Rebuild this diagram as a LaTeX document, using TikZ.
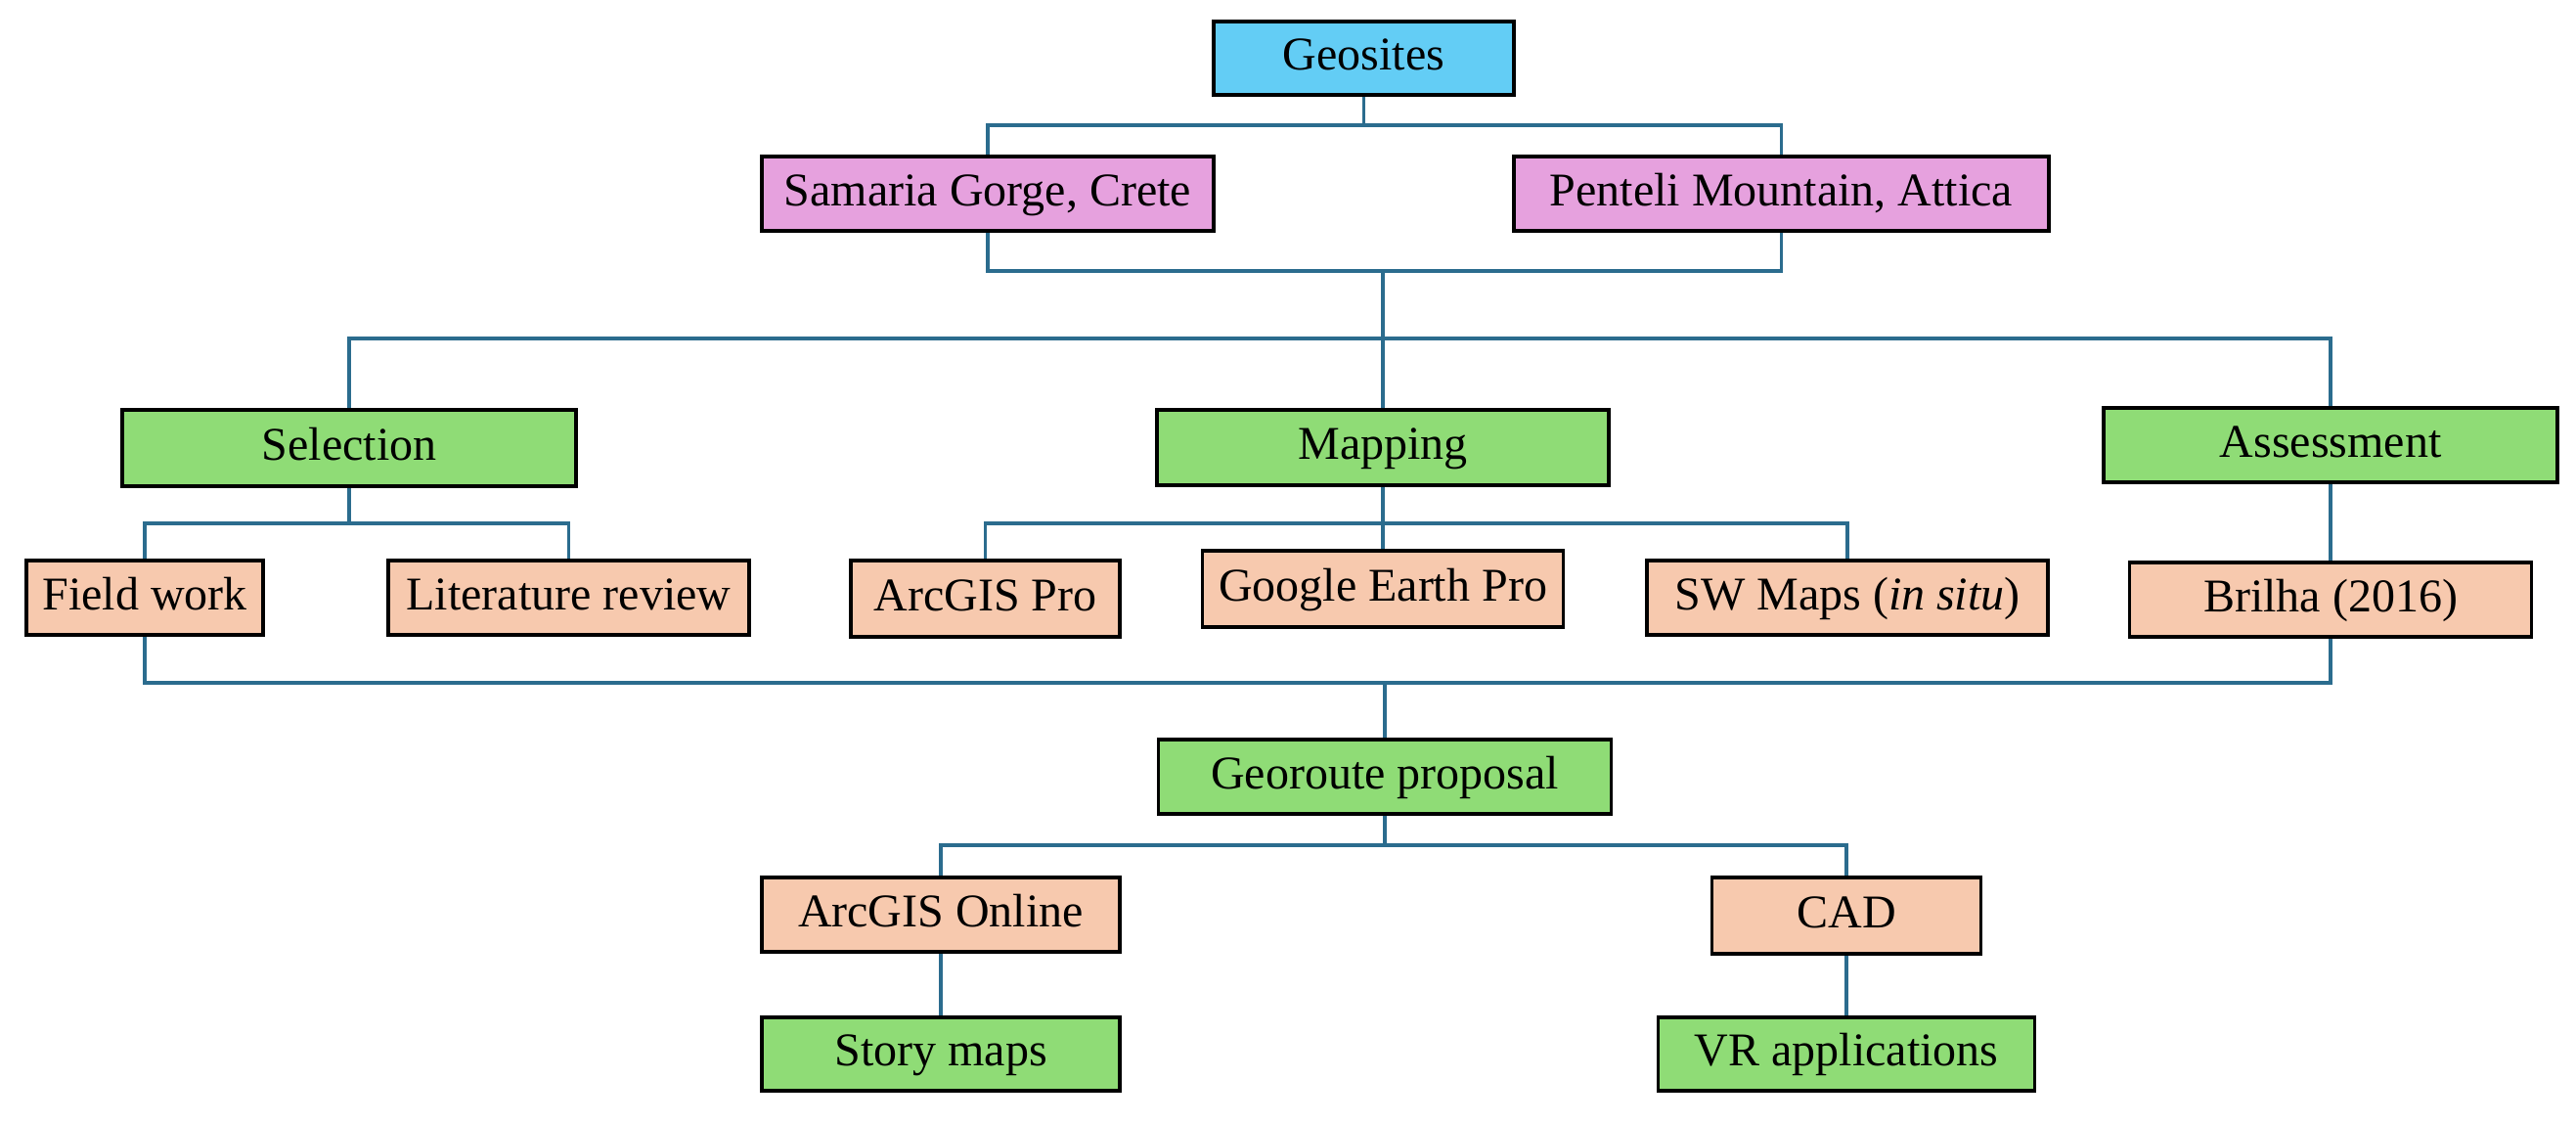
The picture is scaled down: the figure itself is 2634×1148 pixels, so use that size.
\documentclass[tikz,border=0pt]{standalone}
\usepackage{fontspec}
\setmainfont{Liberation Serif}
\definecolor{cblue}{HTML}{63CDF5}
\definecolor{cpink}{HTML}{E6A1DE}
\definecolor{cgreen}{HTML}{8FDC76}
\definecolor{cpeach}{HTML}{F7C9AE}
\definecolor{cline}{HTML}{2B6C8E}
\tikzset{
  box/.style={draw=black, line width=1.8pt, rectangle, inner sep=0pt,
    font=\fontsize{24}{28}\selectfont, text height=17pt, text depth=5pt},
  conn/.style={draw=cline, line width=1.8pt}
}
\begin{document}
\begin{tikzpicture}[x=0.5pt,y=-0.5pt]
\useasboundingbox (0,0) rectangle (2634,1148);
% nodes
\node[box, fill=cblue,  minimum width=153.5pt, minimum height=37.5pt] (geo) at (1394.5,59.5) {Geosites};
\node[box, fill=cpink,  minimum width=231pt, minimum height=38pt] (sam) at (1010,198) {Samaria Gorge, Crete};
\node[box, fill=cpink,  minimum width=273.5pt, minimum height=38pt] (pen) at (1821.5,198) {Penteli Mountain, Attica};
\node[box, fill=cgreen, minimum width=232pt, minimum height=39pt] (sel) at (357,458) {Selection};
\node[box, fill=cgreen, minimum width=231pt, minimum height=38.5pt] (map) at (1414,457.5) {Mapping};
\node[box, fill=cgreen, minimum width=232pt, minimum height=38pt] (ass) at (2383,455) {Assessment};
\node[box, fill=cpeach, minimum width=121pt, minimum height=38pt] (fw) at (148,611) {Field work};
\node[box, fill=cpeach, minimum width=184.5pt, minimum height=38pt] (lit) at (581.5,611) {Literature review};
\node[box, fill=cpeach, minimum width=137.5pt, minimum height=39pt] (agp) at (1007.5,612) {ArcGIS Pro};
\node[box, fill=cpeach, minimum width=184.5pt, minimum height=39pt] (gep) at (1414,602) {Google Earth Pro};
\node[box, fill=cpeach, minimum width=205pt, minimum height=38pt] (sw) at (1889,611) {SW Maps (\textit{in situ})};
\node[box, fill=cpeach, minimum width=205.5pt, minimum height=38pt] (bri) at (2383,613) {Brilha (2016)};
\node[box, fill=cgreen, minimum width=231.5pt, minimum height=38pt] (geor) at (1416,794) {Georoute proposal};
\node[box, fill=cpeach, minimum width=183pt, minimum height=38pt] (ago) at (962,935) {ArcGIS Online};
\node[box, fill=cpeach, minimum width=137.5pt, minimum height=39pt] (cad) at (1888,936) {CAD};
\node[box, fill=cgreen, minimum width=183pt, minimum height=37.5pt] (sto) at (962,1077.5) {Story maps};
\node[box, fill=cgreen, minimum width=192.5pt, minimum height=37.5pt] (vr) at (1888,1077.5) {VR applications};
% junctions
\coordinate (j1) at (1394.5,128);
\coordinate (j2) at (1414,277);
\coordinate (j3) at (1414,346);
\coordinate (j4) at (357,535);
\coordinate (j5) at (1414,535);
\coordinate (j6) at (1416,698);
\coordinate (j7) at (1416,864);
% connectors
\draw[conn] (geo.south) -- (j1);
\draw[conn] (sam.north) |- (j1) -| (pen.north);
\draw[conn] (sam.south) |- (j2) -| (pen.south);
\draw[conn] (j2) -- (map.north);
\draw[conn] (sel.north) |- (j3) -| (ass.north);
\draw[conn] (sel.south) -- (j4);
\draw[conn] (fw.north) |- (j4) -| (lit.north);
\draw[conn] (map.south) -- (gep.north);
\draw[conn] (agp.north) |- (j5) -| (sw.north);
\draw[conn] (ass.south) -- (bri.north);
\draw[conn] (fw.south) |- (j6) -| (bri.south);
\draw[conn] (j6) -- (geor.north);
\draw[conn] (geor.south) -- (j7);
\draw[conn] (ago.north) |- (j7) -| (cad.north);
\draw[conn] (ago.south) -- (sto.north);
\draw[conn] (cad.south) -- (vr.north);
\end{tikzpicture}
\end{document}
